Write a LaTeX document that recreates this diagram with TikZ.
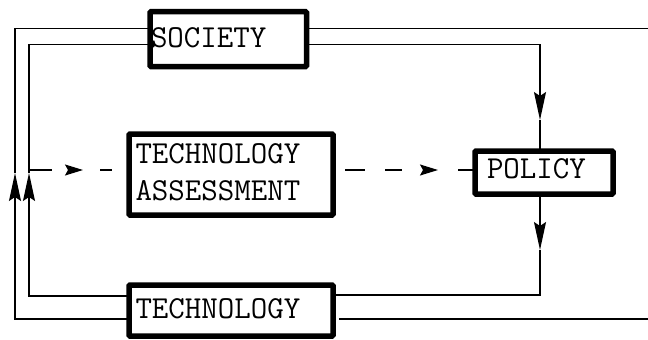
\documentclass[tikz,border=0pt]{standalone}
\usepackage{fontspec}
\usetikzlibrary{arrows.meta,decorations.markings}

\tikzset{
  conn/.style={line width=1.4pt},
  block/.style={draw, line width=5.5pt, outer sep=0pt, anchor=north west,
    inner ysep=0pt, align=left, rounded corners=1pt,
    font=\ttfamily\addfontfeatures{FakeBold=0.6}\fontsize{32}{37}\selectfont},
  vtip/.tip={Stealth[length=28pt,width=12pt,inset=4pt]},
  dtip/.tip={Stealth[length=18pt,width=11pt,inset=3pt]},
}

\begin{document}
\begin{tikzpicture}[x=1pt,y=-1pt]
  \path[fill=white] (0,0) rectangle (648,340);
  \useasboundingbox (0,0) rectangle (648,340);

  % the four blocks
  \node[block, inner xsep=1pt, text width=154.5pt,
        text height=35.3pt, text depth=19.5pt] (soc) at (150,11.7) {SOCIETY};
  \node[block, inner xsep=6.5pt, text width=191pt,
        text height=29pt, text depth=52pt] (ta) at (129,134) {TECHNOLOGY\\ASSESSMENT};
  \node[block, inner xsep=12pt, text width=114pt,
        text height=27pt, text depth=16pt] (pol) at (475,151) {POLICY};
  \node[block, inner xsep=6.5pt, text width=191pt,
        text height=33.5pt, text depth=17.5pt] (tech) at (129,285) {TECHNOLOGY};

  % corners and ends of the feedback rails
  \coordinate (olt) at (15,28.7);
  \coordinate (olb) at (15,319);
  \coordinate (ilt) at (29,44.5);
  \coordinate (ilb) at (29,296);
  \coordinate (rt)  at (540,44.5);
  \coordinate (rb)  at (540,295);
  \coordinate (ort) at (648,28.7);
  \coordinate (orb) at (648,319);
  \coordinate (dl)  at (29,170);
  % arrow tips
  \coordinate (aol) at (15,173);
  \coordinate (ail) at (29,173);
  \coordinate (ar1) at (540,120);
  \coordinate (ar2) at (540,250);

  % outer loop
  \draw[conn,-{vtip}] (tech.west |- olb) -- (olb) -- (aol);
  \draw[conn] (aol) -- (olt) -- (soc.west |- olt);
  \draw[conn] (soc.east |- olt) -- (ort);
  \draw[conn, shorten <=6pt] (tech.east |- orb) -- (orb);

  % inner loop
  \draw[conn,-{vtip}] (tech.west |- ilb) -- (ilb) -- (ail);
  \draw[conn] (ail) -- (ilt) -- (soc.west |- ilt);
  \draw[conn,-{vtip}] (soc.east |- rt) -- (rt) -- (ar1);
  \draw[conn] (ar1) -- (pol.north -| rt);
  \draw[conn,-{vtip}] (pol.south -| rb) -- (ar2);
  \draw[conn] (ar2) -- (rb) -- (tech.east |- rb);

  % dashed links through the assessment
  \draw[conn, dash pattern=on 23pt off 48pt on 12pt off 40pt,
        postaction={decorate},
        decoration={markings, mark=at position 54pt with {\arrow{dtip}}}]
        (dl) -- (ta.west |- dl);
  \draw[conn, dash pattern=on 0pt off 12pt on 20pt off 20pt on 17pt off 56pt on 20pt off 20pt,
        postaction={decorate},
        decoration={markings, mark=at position 105pt with {\arrow{dtip}}}]
        (ta.east |- dl) -- (pol.west |- dl);
\end{tikzpicture}
\end{document}
